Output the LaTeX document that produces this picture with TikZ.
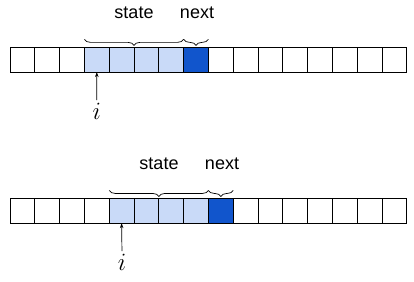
\documentclass[tikz,border=0pt]{standalone}
\usepackage{fontspec}
\setsansfont{Liberation Sans}
\usetikzlibrary{decorations.pathreplacing,arrows.meta}
\definecolor{lightblue}{HTML}{C9DAF8}
\definecolor{darkblue}{HTML}{1155CC}
\tikzset{
  cell/.style={draw=black, line width=0.8pt, minimum width=24.8pt, minimum height=24.7pt, inner sep=0pt, outer sep=0pt},
  statecell/.style={cell, fill=lightblue},
  nextcell/.style={cell, fill=darkblue},
  bracedeco/.style={decorate, decoration={brace, mirror, amplitude=6pt}, line width=0.7pt},
  lbl/.style={font=\sffamily\fontsize{18}{18}\selectfont, inner sep=0pt, anchor=base},
  ilabel/.style={font=\fontsize{28}{28}\selectfont, inner sep=0pt, anchor=north},
  ptr/.style={-{Stealth[length=5pt,width=3.5pt]}, line width=0.7pt, shorten <=3pt}
}
\begin{document}
\begin{tikzpicture}[x=1pt,y=-1pt]
\useasboundingbox (0,0) rectangle (414,281);
% top row
\foreach \k in {0,...,15}{
  \pgfmathsetmacro{\cx}{10+24.8*\k+12.4}
  \ifnum\k<3 \node[cell] (a\k) at (\cx,59.7) {};\fi
  \ifnum\k>2 \ifnum\k<7 \node[statecell] (a\k) at (\cx,59.7) {};\fi\fi
  \ifnum\k=7 \node[nextcell] (a\k) at (\cx,59.7) {};\fi
  \ifnum\k>7 \node[cell] (a\k) at (\cx,59.7) {};\fi
}
\draw[bracedeco] ([yshift=8pt]a3.north west) -- ([yshift=8pt]a6.north east);
\draw[bracedeco] ([yshift=8pt]a7.north west) -- ([yshift=8pt]a7.north east);
\node[lbl] (s1) at (134,18.5) {state};
\node[lbl] (n1) at (197,18.5) {next};
\node[ilabel] (i1) at (96.7,103) {$i$};
\draw[ptr] (i1.north) -- (a3.south);
% bottom row
\foreach \k in {0,...,15}{
  \pgfmathsetmacro{\cx}{10+24.8*\k+12.4}
  \ifnum\k<4 \node[cell] (b\k) at (\cx,210.8) {};\fi
  \ifnum\k>3 \ifnum\k<8 \node[statecell] (b\k) at (\cx,210.8) {};\fi\fi
  \ifnum\k=8 \node[nextcell] (b\k) at (\cx,210.8) {};\fi
  \ifnum\k>8 \node[cell] (b\k) at (\cx,210.8) {};\fi
}
\draw[bracedeco] ([yshift=8pt]b4.north west) -- ([yshift=8pt]b7.north east);
\draw[bracedeco] ([yshift=8pt]b8.north west) -- ([yshift=8pt]b8.north east);
\node[lbl] (s2) at (159,169.5) {state};
\node[lbl] (n2) at (222,169.5) {next};
\node[ilabel] (i2) at (122,254) {$i$};
\draw[ptr] (i2.north) -- (b4.south);
\end{tikzpicture}
\end{document}
